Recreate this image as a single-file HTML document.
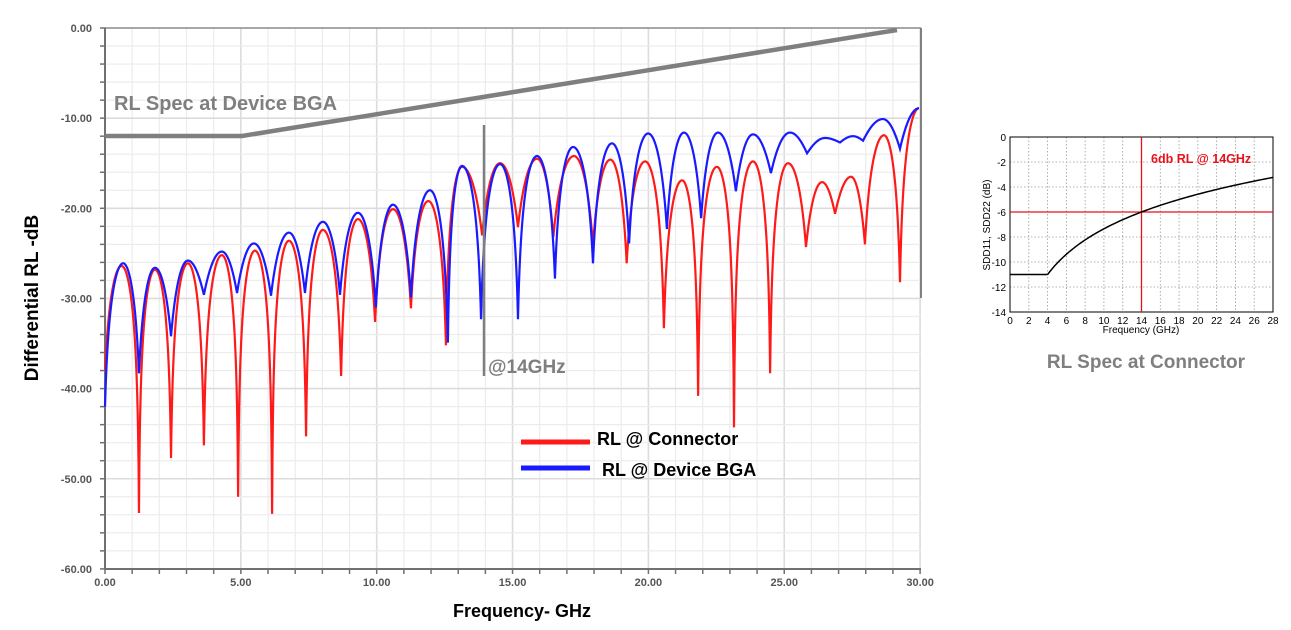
<!DOCTYPE html>
<html><head><meta charset="utf-8"><style>
html,body{margin:0;padding:0;background:#fff;}
body{width:1291px;height:630px;overflow:hidden;}
svg{display:block;font-family:"Liberation Sans",Arial,sans-serif;}
</style></head><body>
<svg id="s" width="1291" height="630" viewBox="0 0 1291 630" xmlns="http://www.w3.org/2000/svg">
<g id="grid"></g>
<g id="axes"></g>
<!-- spec line -->
<polyline points="105,136 242,136 897,30" fill="none" stroke="#7f7f7f" stroke-width="4.5"/>
<text x="114" y="110" font-size="20" fill="#7f7f7f" font-weight="bold" style="font-family:'Liberation Sans',sans-serif">RL Spec at Device BGA</text>
<line x1="921" y1="28" x2="921" y2="298" stroke="#808080" stroke-width="2"/>
<path id="red" fill="none" stroke="#ff1a1a" stroke-width="2.2"/>
<path id="blue" fill="none" stroke="#1a1aff" stroke-width="2.2"/>
<line x1="484" y1="125" x2="484" y2="376" stroke="#7f7f7f" stroke-width="2.5"/>
<text x="488" y="373" font-size="19" fill="#7f7f7f" font-weight="bold">@14GHz</text>
<!-- legend -->
<line x1="521" y1="442" x2="590" y2="442" stroke="#ff1a1a" stroke-width="5"/>
<text x="597" y="445" font-size="18" font-weight="bold" fill="#000">RL @ Connector</text>
<line x1="521" y1="468" x2="590" y2="468" stroke="#1a1aff" stroke-width="5"/>
<text x="602" y="476" font-size="18" font-weight="bold" fill="#000">RL @ Device BGA</text>
<text x="453" y="617" font-size="18" font-weight="bold" fill="#000">Frequency- GHz</text>
<text transform="translate(38,298) rotate(-90)" text-anchor="middle" font-size="19" font-weight="bold" fill="#000">Differential RL -dB</text>
<!-- right chart -->
<g id="rgrid"></g>
<rect x="1010" y="137" width="263" height="175" fill="none" stroke="#000" stroke-width="1"/>
<line x1="1141.5" y1="137" x2="1141.5" y2="312" stroke="#e8101a" stroke-width="1.3"/>
<line x1="1010" y1="212" x2="1273" y2="212" stroke="#e8101a" stroke-width="1.3"/>
<path id="spec2" fill="none" stroke="#000" stroke-width="1.5"/>
<text x="1151" y="163" font-size="12.5" font-weight="bold" fill="#e8101a">6db RL @ 14GHz</text>
<text x="1141" y="333" text-anchor="middle" font-size="10" fill="#000">Frequency (GHz)</text>
<text transform="translate(990,225) rotate(-90)" text-anchor="middle" font-size="10" fill="#000">SDD11, SDD22 (dB)</text>
<text x="1146" y="368" text-anchor="middle" font-size="19" font-weight="bold" fill="#7f7f7f">RL Spec at Connector</text>
</svg>
<script>
var NS="http://www.w3.org/2000/svg";
function el(p,t,a,txt){var e=document.createElementNS(NS,t);for(var k in a)e.setAttribute(k,a[k]);if(txt!==undefined)e.textContent=txt;document.getElementById(p).appendChild(e);return e;}
var X0=105,PX=27.17,Y0=28,PY=9.015;
function fx(f){return X0+f*PX;}function fy(d){return Y0-d*PY;}
// grid
for(var g=1;g<=30;g++){var x=fx(g);el("grid","line",{x1:x,y1:28,x2:x,y2:569,stroke:g%5==0?"#dcdcdc":"#ececec","stroke-width":g%5==0?1.6:1.2});}
for(var d=-2;d>=-58;d-=2){var y=fy(d);el("grid","line",{x1:105,y1:y,x2:921,y2:y,stroke:d%10==0?"#dcdcdc":"#ececec","stroke-width":d%10==0?1.6:1.2});}
el("axes","line",{x1:105,y1:28,x2:921,y2:28,stroke:"#8a8a8a","stroke-width":1.5});
el("axes","line",{x1:105,y1:28,x2:105,y2:569,stroke:"#707070","stroke-width":2});
el("axes","line",{x1:105,y1:569,x2:921,y2:569,stroke:"#707070","stroke-width":2});
for(var d=0;d>=-60;d-=2){var y=fy(d);el("axes","line",{x1:100,y1:y,x2:105,y2:y,stroke:"#707070","stroke-width":1.5});
 if(d%10==0)el("axes","text",{x:92,y:y+4,"text-anchor":"end","font-size":11,"font-weight":"bold",fill:"#555"},d.toFixed(2));}
for(var g=0;g<=30;g++){var x=fx(g);el("axes","line",{x1:x,y1:569,x2:x,y2:574,stroke:"#707070","stroke-width":1.5});
 if(g%5==0)el("axes","text",{x:x,y:586,"text-anchor":"middle","font-size":11,"font-weight":"bold",fill:"#555"},g.toFixed(2));}
// curves from extremes
var red=[[0,-38],[0.61,-26.4],[1.25,-53.8],[1.84,-26.8],[2.43,-47.7],[3.05,-26.1],[3.64,-46.3],[4.3,-25.2],[4.9,-52],[5.52,-24.7],[6.15,-53.9],[6.77,-23.6],[7.4,-45.3],[8.02,-22.4],[8.69,-38.6],[9.31,-21.2],[9.94,-32.6],[10.6,-20.1],[11.26,-31.1],[11.9,-19.2],[12.55,-35.2],[13.14,-15.4],[13.88,-23],[14.54,-15],[15.2,-22.1],[15.9,-14.5],[16.5,-23.2],[17.26,-14.2],[17.96,-24.1],[18.6,-14.6],[19.2,-26.1],[19.88,-14.8],[20.57,-33.3],[21.24,-16.9],[21.83,-40.8],[22.52,-15.4],[23.15,-44.3],[23.85,-14.8],[24.48,-38.3],[25.14,-15],[25.8,-24.3],[26.39,-17.1],[26.87,-20.6],[27.46,-16.5],[27.97,-24],[28.67,-11.9],[29.26,-28.2],[29.96,-8.9]];
var blue=[[0,-42],[0.67,-26.1],[1.25,-38.3],[1.84,-26.6],[2.43,-34.2],[3.05,-25.8],[3.64,-29.6],[4.3,-24.8],[4.86,-29.4],[5.48,-23.9],[6.11,-29.7],[6.77,-22.7],[7.36,-29.4],[8.02,-21.5],[8.65,-29.6],[9.31,-20.5],[9.97,-31],[10.6,-19.6],[11.26,-29.9],[11.96,-18],[12.62,-34.9],[13.14,-15.3],[13.84,-32.3],[14.54,-15.1],[15.2,-32.3],[15.9,-14.2],[16.56,-27.8],[17.23,-13.2],[17.96,-26.1],[18.66,-12.8],[19.29,-23.9],[19.99,-11.7],[20.68,-22.3],[21.31,-11.6],[21.94,-21.1],[22.56,-11.6],[23.22,-18.1],[23.85,-11.8],[24.51,-16.1],[25.21,-11.6],[25.84,-13.9],[26.5,-12.2],[27.05,-12.7],[27.53,-12],[27.9,-12.5],[28.63,-10.1],[29.26,-13.4],[29.96,-8.9]];
function build(pts){var s="";var first=true;
 for(var i=0;i<pts.length-1;i++){var a=pts[i],b=pts[i+1];var aPeak=a[1]>b[1];
  var P=aPeak?a:b,N=aPeak?b:a;var lp=Math.pow(10,P[1]/20),ln=Math.pow(10,N[1]/20);
  var n=40;for(var k=0;k<=n;k++){var t=k/n;var f=a[0]+(b[0]-a[0])*t;
   var tn=aPeak?t:1-t; // 0 at peak,1 at null
   var sv=Math.cos(tn*Math.PI/2);var v=20*Math.log10(sv*(lp-ln)+ln);
   s+=(first?"M":"L")+fx(f).toFixed(2)+","+fy(v).toFixed(2);first=false;}}
 return s;}
document.getElementById("red").setAttribute("d",build(red));
document.getElementById("blue").setAttribute("d",build(blue));
// right chart
var RX=1010,RW=263,RY=137,RH=175;
function rx(f){return RX+f*RW/28;}function ry(d){return RY-d*RH/14;}
for(var g=2;g<28;g+=2)el("rgrid","line",{x1:rx(g),y1:RY,x2:rx(g),y2:RY+RH,stroke:"#9a9a9a","stroke-width":0.8,"stroke-dasharray":"1.5,2"});
for(var d=-2;d>-14;d-=2)el("rgrid","line",{x1:RX,y1:ry(d),x2:RX+RW,y2:ry(d),stroke:"#9a9a9a","stroke-width":0.8,"stroke-dasharray":"1.5,2"});
for(var g=0;g<=28;g+=2)el("rgrid","text",{x:rx(g),y:324,"text-anchor":"middle","font-size":10,fill:"#000"},""+g);
for(var d=0;d>=-14;d-=2)el("rgrid","text",{x:1006,y:ry(d)+4,"text-anchor":"end","font-size":10,fill:"#000"},""+d);
var s="M"+rx(0)+","+ry(-11)+"L"+rx(4)+","+ry(-11);
for(var f=4;f<=28;f+=0.25){s+="L"+rx(f).toFixed(2)+","+ry(-11+9.19*Math.log10(f/4)).toFixed(2);}
document.getElementById("spec2").setAttribute("d",s);
</script>
</body></html>
